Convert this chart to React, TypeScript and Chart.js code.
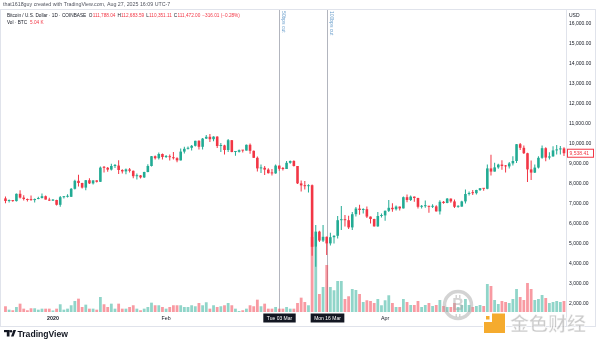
import React, { useEffect, useRef } from "react";
import { Chart, registerables } from "chart.js";
Chart.register(...registerables);

// ---------- data ----------
const DATES = [
  "2019-12-19","2019-12-20","2019-12-21","2019-12-22","2019-12-23","2019-12-24","2019-12-25","2019-12-26","2019-12-27","2019-12-28","2019-12-29","2019-12-30","2019-12-31",
  "2020-01-01","2020-01-02","2020-01-03","2020-01-04","2020-01-05","2020-01-06","2020-01-07","2020-01-08","2020-01-09","2020-01-10","2020-01-11","2020-01-12","2020-01-13","2020-01-14","2020-01-15","2020-01-16","2020-01-17","2020-01-18","2020-01-19","2020-01-20","2020-01-21","2020-01-22","2020-01-23","2020-01-24","2020-01-25","2020-01-26","2020-01-27","2020-01-28","2020-01-29","2020-01-30","2020-01-31",
  "2020-02-01","2020-02-02","2020-02-03","2020-02-04","2020-02-05","2020-02-06","2020-02-07","2020-02-08","2020-02-09","2020-02-10","2020-02-11","2020-02-12","2020-02-13","2020-02-14","2020-02-15","2020-02-16","2020-02-17","2020-02-18","2020-02-19","2020-02-20","2020-02-21","2020-02-22","2020-02-23","2020-02-24","2020-02-25","2020-02-26","2020-02-27","2020-02-28","2020-02-29",
  "2020-03-01","2020-03-02","2020-03-03","2020-03-04","2020-03-05","2020-03-06","2020-03-07","2020-03-08","2020-03-09","2020-03-10","2020-03-11","2020-03-12","2020-03-13","2020-03-14","2020-03-15","2020-03-16","2020-03-17","2020-03-18","2020-03-19","2020-03-20","2020-03-21","2020-03-22","2020-03-23","2020-03-24","2020-03-25","2020-03-26","2020-03-27","2020-03-28","2020-03-29","2020-03-30","2020-03-31",
  "2020-04-01","2020-04-02","2020-04-03","2020-04-04","2020-04-05","2020-04-06","2020-04-07","2020-04-08","2020-04-09","2020-04-10","2020-04-11","2020-04-12","2020-04-13","2020-04-14","2020-04-15","2020-04-16","2020-04-17","2020-04-18","2020-04-19","2020-04-20","2020-04-21","2020-04-22","2020-04-23","2020-04-24","2020-04-25","2020-04-26","2020-04-27","2020-04-28","2020-04-29","2020-04-30",
  "2020-05-01","2020-05-02","2020-05-03","2020-05-04","2020-05-05","2020-05-06","2020-05-07","2020-05-08","2020-05-09","2020-05-10","2020-05-11","2020-05-12","2020-05-13","2020-05-14","2020-05-15","2020-05-16","2020-05-17","2020-05-18","2020-05-19","2020-05-20",
];

const OPEN = [
  7280,7150,7190,7145,7510,7320,7250,7200,7195,7250,7300,7390,7220,
  7170,7200,6960,7340,7360,7360,7760,8160,8050,7820,8190,8030,8180,8110,8820,8810,8720,8900,8920,8700,8630,8730,8660,8390,8430,8330,8600,8900,9390,9290,9500,
  9350,9380,9340,9290,9180,9620,9760,9810,9910,10160,9860,10270,10360,10240,10370,9900,9930,9700,10190,9600,9610,9690,9670,9960,9660,9310,8780,8810,8720,
  8540,8530,8920,8760,8750,9060,9150,8900,8030,7930,7890,7940,4860,5620,5170,5360,5030,5340,5410,6190,6200,6190,5830,6490,6770,6700,6740,6370,6250,5880,6400,
  6430,6660,6810,6740,6870,6780,7340,7200,7370,7300,6860,6890,6910,6860,6880,6630,7110,7050,7270,7130,6860,6870,7130,7500,7550,7540,7700,7790,7760,8780,
  8620,8830,8970,8900,8880,9030,9150,9990,9810,9540,8730,8570,8820,9310,9790,9320,9380,9680,9730,9780,
];
const HIGH = [
  7370,7220,7200,7520,7690,7440,7270,7430,7270,7360,7520,7420,7310,
  7250,7210,7400,7400,7490,7800,8210,8460,8060,8200,8290,8190,8190,8880,8900,8850,9010,9000,9190,8740,8780,8800,8680,8520,8450,8610,8990,9400,9430,9570,9520,
  9450,9470,9600,9340,9770,9860,9880,9950,10160,10190,10300,10450,10500,10390,10390,10050,9960,10250,10200,9650,9720,9700,9970,10030,9670,9380,8980,8900,8790,
  8750,8970,8920,8850,9150,9170,9190,8900,8180,8150,7990,7970,5950,5660,5950,5370,5560,5440,6400,6900,6450,6410,6600,6850,6960,6790,6870,6380,6260,6600,6520,
  6680,7200,7040,6920,6880,7370,7470,7420,7380,7310,6950,7180,6910,6990,6940,7190,7150,7300,7270,7220,6940,7160,7730,7620,7700,7710,7800,7790,8980,9460,
  9060,9010,9190,8950,9100,9390,10000,10050,9920,9560,9170,8980,9390,9930,9840,9590,9890,9950,9900,9840,
];
const LOW = [
  7040,7080,7110,7130,7270,7170,7130,7160,7070,7240,7280,7220,7150,
  7150,6920,6860,7280,7320,7350,7730,7870,7770,7690,8000,7970,8070,8100,8580,8610,8680,8800,8500,8520,8490,8580,8290,8230,8280,8300,8590,8870,9220,9220,9230,
  9300,9170,9230,9090,9170,9530,9720,9670,9880,9730,9720,10250,10100,10140,9800,9600,9470,9600,9590,9410,9570,9580,9670,9510,9300,8620,8550,8450,8530,
  8420,8510,8660,8670,8750,9010,8870,8000,7630,7730,7580,4410,3860,5100,5100,4450,4930,5020,5270,5700,5870,5750,5700,6380,6460,6530,6300,6030,5870,5860,6330,
  6160,6600,6610,6680,6680,6780,7090,7150,7110,6770,6780,6810,6560,6800,6620,6480,7010,7040,7060,6800,6810,6860,7020,7420,7450,7480,7650,7660,7740,8420,
  8620,8760,8710,8570,8780,8930,9050,9700,9500,8100,8200,8550,8780,9260,9140,9230,9360,9470,9470,9400,
];
const CLOSE = [
  7150,7190,7145,7510,7320,7250,7200,7195,7250,7300,7390,7220,7170,
  7200,6960,7340,7360,7360,7760,8160,8050,7820,8190,8030,8180,8110,8820,8810,8720,8900,8920,8700,8630,8730,8660,8390,8430,8330,8600,8900,9390,9290,9500,9350,
  9380,9340,9290,9180,9620,9760,9810,9910,10160,9860,10270,10360,10240,10370,9900,9930,9700,10190,9600,9610,9690,9670,9960,9660,9310,8780,8810,8720,8540,
  8530,8920,8760,8750,9060,9150,8900,8030,7930,7890,7940,4860,5620,5170,5360,5030,5340,5410,6190,6200,6190,5830,6490,6770,6700,6740,6370,6250,5880,6400,6430,
  6660,6810,6740,6870,6780,7340,7200,7370,7300,6860,6890,6910,6860,6880,6630,7110,7050,7270,7130,6860,6870,7130,7500,7550,7540,7700,7790,7760,8780,8620,
  8830,8970,8900,8880,9030,9150,9990,9810,9540,8730,8570,8820,9310,9790,9320,9380,9680,9730,9780,9538.41,
];
// volume, thousands of BTC
const VOLUME = [
  8.6,3.5,2.6,7.5,12.5,5.0,2.6,5.6,5.6,3.5,5.0,5.0,5.0,
  2.3,5.0,11.6,3.5,5.0,10.1,16.5,20.0,7.5,11.0,5.0,5.0,3.5,22.5,11.6,7.5,12.5,5.0,12.5,5.0,5.0,7.5,10.1,5.0,2.6,5.0,7.5,14.0,10.1,10.1,7.5,
  5.0,7.5,10.1,10.1,10.1,7.5,7.5,10.1,8.6,13.5,10.1,14.6,5.0,10.1,7.5,8.6,10.1,13.5,10.1,5.0,1.5,2.6,5.0,10.1,8.6,18.5,8.6,12.5,5.0,
  5.0,7.5,5.0,5.0,7.5,5.0,5.0,13.5,21.5,15.0,10.1,112.5,97.5,27.0,37.5,70.5,37.5,32.6,46.5,46.5,19.5,23.6,34.5,33.0,27.0,15.0,17.6,16.5,13.5,19.5,10.1,
  17.6,25.1,13.5,7.5,7.5,19.5,15.0,10.5,10.5,16.5,7.5,10.5,13.5,9.0,10.5,18.0,9.0,7.5,7.5,13.5,7.5,10.5,19.5,10.5,7.5,9.0,10.5,9.0,42.0,39.0,
  18.0,12.0,16.5,15.0,13.5,19.5,34.5,22.5,18.0,43.5,34.5,18.0,19.5,25.5,21.0,13.5,15.0,16.5,15.0,16.5,
];

const X_TICK_DATES = ["2020-01-01", "2020-02-01", "2020-03-01", "2020-04-01", "2020-05-01"];
const X_TICK_LABELS = ["2020", "Feb", "Mar", "Apr", "May"];
const X_MIN_DAY = -14.5;
const X_MAX_DAY = 140.55;
const Y_MIN = 1600;
const Y_MAX = 16750;
const Y_TICKS = [2000, 3000, 4000, 5000, 6000, 7000, 8000, 9000, 10000, 11000, 12000, 13000, 14000, 15000, 16000];
const VOL_MAX = 454.5;

const EVENT_DATES = ["2020-03-03", "2020-03-16"];
const EVENT_NAMES = ["50bps cut", "100bps cut"];
const EVENT_AXIS_LABELS = ["Tue 03 Mar", "Mon 16 Mar"];

const HEADER_CREDIT = "that1618guy created with TradingView.com, Aug 27, 2025 16:09 UTC-7";
const HEADER_SYMBOL = "Bitcoin / U.S. Dollar · 1D · COINBASE";
const HEADER_OHLC: [string, string][] = [
  ["O", "111,788.04"],
  ["H", "112,683.59"],
  ["L", "110,351.11"],
  ["C", "111,472.00"],
];
const HEADER_CHANGE = "−316.01 (−0.28%)";
const HEADER_VOL_LABEL = "Vol · BTC";
const HEADER_VOL_VALUE = "5.04 K";
const CURRENCY = "USD";
const BRAND = "TradingView";
const WATERMARK = "金色财经";

// ---------- style ----------
const UP = "#22ab94";
const DOWN = "#f23645";
const UP_VOL = "rgba(34,171,148,0.5)";
const DOWN_VOL = "rgba(242,54,69,0.5)";
const TEXT = "#131722";
const FONT = '"Liberation Sans", Arial, sans-serif';

const dayOf = (s: string) =>
  (Date.UTC(+s.slice(0, 4), +s.slice(5, 7) - 1, +s.slice(8, 10)) - Date.UTC(2020, 0, 1)) / 86400000;

const fmt = (v: number) =>
  v.toLocaleString("en-US", { minimumFractionDigits: 2, maximumFractionDigits: 2 });

const overlay = {
  id: "tvOverlay",
  beforeDatasetsDraw(chart: any) {
    const { ctx, chartArea: ca } = chart;
    const xs = chart.scales.x;
    ctx.save();
    ctx.strokeStyle = "#b2b5be";
    ctx.lineWidth = 1;
    EVENT_DATES.forEach((d) => {
      const x = Math.round(xs.getPixelForValue(dayOf(d))) + 0.5;
      ctx.beginPath();
      ctx.moveTo(x, ca.top);
      ctx.lineTo(x, ca.bottom);
      ctx.stroke();
    });
    ctx.restore();
  },
  afterDraw(chart: any) {
    const { ctx, chartArea: ca } = chart;
    const xs = chart.scales.x;
    const ys = chart.scales.y;
    ctx.save();

    // frame
    ctx.strokeStyle = "#e0e3eb";
    ctx.lineWidth = 1;
    ctx.strokeRect(0.5, 9.5, 595, 317);
    ctx.beginPath();
    ctx.moveTo(Math.round(ca.right) + 0.5, 9.5);
    ctx.lineTo(Math.round(ca.right) + 0.5, 326.5);
    ctx.stroke();

    // price axis labels (positions from the y scale)
    ctx.font = `5px ${FONT}`;
    ctx.fillStyle = TEXT;
    ctx.textAlign = "left";
    ctx.textBaseline = "middle";
    Y_TICKS.forEach((v) => {
      ctx.fillText(fmt(v), ca.right + 3, ys.getPixelForValue(v));
    });

    // header
    ctx.font = `5.3px ${FONT}`;
    ctx.fillStyle = "#50535e";
    ctx.fillText(HEADER_CREDIT, 3, 5);

    let x = 7;
    ctx.font = `4.7px ${FONT}`;
    ctx.fillStyle = TEXT;
    ctx.fillText(HEADER_SYMBOL, x, 16);
    x += ctx.measureText(HEADER_SYMBOL).width + 2.5;
    HEADER_OHLC.forEach(([k, v]) => {
      ctx.fillStyle = TEXT;
      ctx.fillText(k, x, 16);
      x += ctx.measureText(k).width + 0.3;
      ctx.fillStyle = DOWN;
      ctx.fillText(v, x, 16);
      x += ctx.measureText(v).width + 2;
    });
    ctx.fillStyle = DOWN;
    ctx.fillText(HEADER_CHANGE, x, 16);

    ctx.fillStyle = TEXT;
    ctx.fillText(HEADER_VOL_LABEL, 7, 22.5);
    const vw = ctx.measureText(HEADER_VOL_LABEL).width;
    ctx.fillStyle = DOWN;
    ctx.fillText(HEADER_VOL_VALUE, 7 + vw + 3, 22.5);

    ctx.font = `5px ${FONT}`;
    ctx.fillStyle = TEXT;
    ctx.fillText(CURRENCY, ca.right + 3, 16);

    // event labels (rotated) and axis boxes
    EVENT_DATES.forEach((d, i) => {
      const ex = Math.round(xs.getPixelForValue(dayOf(d))) + 0.5;
      ctx.save();
      ctx.translate(ex + 1.5, 11);
      ctx.rotate(Math.PI / 2);
      ctx.font = `5px ${FONT}`;
      ctx.fillStyle = "#6b9fcc";
      ctx.textBaseline = "bottom";
      ctx.textAlign = "left";
      ctx.fillText(EVENT_NAMES[i], 0, 0);
      ctx.restore();

      ctx.font = `5px ${FONT}`;
      const tw = ctx.measureText(EVENT_AXIS_LABELS[i]).width;
      const bw = tw + 7;
      ctx.fillStyle = TEXT;
      ctx.fillRect(ex - bw / 2, 313.5, bw, 9);
      ctx.fillStyle = "#ffffff";
      ctx.textAlign = "center";
      ctx.textBaseline = "middle";
      ctx.fillText(EVENT_AXIS_LABELS[i], ex, 318.2);
    });

    // last price label
    const last = CLOSE[CLOSE.length - 1];
    const py = ys.getPixelForValue(last);
    ctx.fillStyle = "#ffffff";
    ctx.fillRect(ca.right + 1.5, py - 4, 26, 8);
    ctx.strokeStyle = DOWN;
    ctx.strokeRect(ca.right + 1.5, py - 4, 26, 8);
    ctx.fillStyle = DOWN;
    ctx.textAlign = "left";
    ctx.textBaseline = "middle";
    ctx.font = `5px ${FONT}`;
    ctx.fillText(fmt(last), ca.right + 3.5, py + 0.3);

    // TradingView brand
    ctx.fillStyle = TEXT;
    ctx.fillRect(4, 330, 5.5, 2.2);
    ctx.fillRect(6.8, 330, 2.7, 6.5);
    ctx.beginPath();
    ctx.arc(11, 331.2, 1.2, 0, Math.PI * 2);
    ctx.fill();
    ctx.beginPath();
    ctx.moveTo(11, 336.5);
    ctx.lineTo(13.4, 330);
    ctx.lineTo(16, 330);
    ctx.lineTo(13.6, 336.5);
    ctx.closePath();
    ctx.fill();
    ctx.font = `bold 8.6px ${FONT}`;
    ctx.textBaseline = "alphabetic";
    ctx.fillText(BRAND, 17.5, 336.5);

    // watermark
    ctx.globalAlpha = 0.5;
    ctx.strokeStyle = "#a8a8a8";
    ctx.lineWidth = 3.5;
    ctx.beginPath();
    ctx.arc(458, 305, 13.5, 0, Math.PI * 2);
    ctx.stroke();
    ctx.fillStyle = "#a8a8a8";
    ctx.font = `bold 16px ${FONT}`;
    ctx.textAlign = "center";
    ctx.textBaseline = "middle";
    ctx.fillText("B", 458, 306);
    ctx.fillRect(455.5, 295, 1.5, 3);
    ctx.fillRect(459, 295, 1.5, 3);
    ctx.fillRect(455.5, 314, 1.5, 3);
    ctx.fillRect(459, 314, 1.5, 3);
    ctx.globalAlpha = 1;
    ctx.fillStyle = "#ffffff";
    ctx.fillRect(483, 313, 23, 21);
    ctx.fillStyle = "#f5ab2e";
    ctx.beginPath();
    ctx.moveTo(492, 313.5);
    ctx.lineTo(505, 313.5);
    ctx.lineTo(505, 333);
    ctx.lineTo(484, 333);
    ctx.lineTo(484, 322);
    ctx.lineTo(492, 322);
    ctx.closePath();
    ctx.fill();
    ctx.fillRect(486, 316, 3.5, 3.5);
    ctx.globalAlpha = 0.55;
    ctx.font = `bold 19px "Noto Sans CJK SC", sans-serif`;
    ctx.textAlign = "left";
    ctx.textBaseline = "middle";
    ctx.fillStyle = "#a0a0a0";
    ctx.fillText(WATERMARK, 510, 324);
    ctx.globalAlpha = 0.8;
    ctx.strokeStyle = "#ffffff";
    ctx.lineWidth = 0.8;
    ctx.strokeText(WATERMARK, 510, 324);

    ctx.restore();
  },
};

export default function App() {
  const ref = useRef<HTMLCanvasElement | null>(null);

  useEffect(() => {
    if (!ref.current) return;
    const xs = DATES.map(dayOf);
    const up = CLOSE.map((c, i) => c >= OPEN[i]);

    const chart = new Chart(ref.current, {
      type: "bar",
      data: {
        datasets: [
          {
            label: "body",
            data: xs.map((x, i) => ({ x, y: [OPEN[i], CLOSE[i]] })) as any,
            backgroundColor: up.map((u) => (u ? UP : DOWN)),
            barThickness: 2.6,
            grouped: false,
            minBarLength: 1,
            inflateAmount: 0,
            borderWidth: 0,
            order: 1,
            yAxisID: "y",
          } as any,
          {
            label: "wick",
            data: xs.map((x, i) => ({ x, y: [LOW[i], HIGH[i]] })) as any,
            backgroundColor: up.map((u) => (u ? UP : DOWN)),
            barThickness: 1,
            grouped: false,
            inflateAmount: 0,
            borderWidth: 0,
            order: 2,
            yAxisID: "y",
          } as any,
          {
            label: "volume",
            data: xs.map((x, i) => ({ x, y: VOLUME[i] })) as any,
            backgroundColor: up.map((u) => (u ? UP_VOL : DOWN_VOL)),
            barThickness: 2.8,
            grouped: false,
            inflateAmount: 0,
            borderWidth: 0,
            order: 3,
            yAxisID: "v",
          } as any,
        ],
      },
      options: {
        animation: false,
        responsive: false,
        maintainAspectRatio: false,
        layout: { padding: { top: 9, left: 0, right: 0, bottom: 0 } },
        plugins: { legend: { display: false }, tooltip: { enabled: false } },
        scales: {
          x: {
            type: "linear",
            min: X_MIN_DAY,
            max: X_MAX_DAY,
            offset: false,
            grid: { display: false, drawTicks: false },
            border: { display: false },
            afterBuildTicks: (s: any) => {
              s.ticks = X_TICK_DATES.map((d) => ({ value: dayOf(d) }));
            },
            afterFit: (s: any) => {
              s.height = 33;
            },
            ticks: {
              autoSkip: false,
              maxRotation: 0,
              padding: 3,
              color: TEXT,
              font: (c: any) => ({ size: 5.3, family: FONT, weight: c.index === 0 ? "bold" : "normal" }),
              callback: (_v: any, i: number) => X_TICK_LABELS[i],
            },
          } as any,
          y: {
            type: "linear",
            position: "right",
            min: Y_MIN,
            max: Y_MAX,
            grid: { display: false, drawTicks: false },
            border: { display: false },
            afterFit: (s: any) => {
              s.width = 34;
            },
            ticks: { display: false },
          } as any,
          v: {
            axis: "y",
            position: "left",
            display: false,
            min: 0,
            max: VOL_MAX,
          } as any,
        },
      },
      plugins: [overlay],
    });
    return () => chart.destroy();
  }, []);

  return (
    <div style={{ position: "fixed", left: 0, top: 0, width: 600, height: 345, background: "#fff" }}>
      <canvas ref={ref} width={600} height={345} style={{ display: "block" }} />
    </div>
  );
}
